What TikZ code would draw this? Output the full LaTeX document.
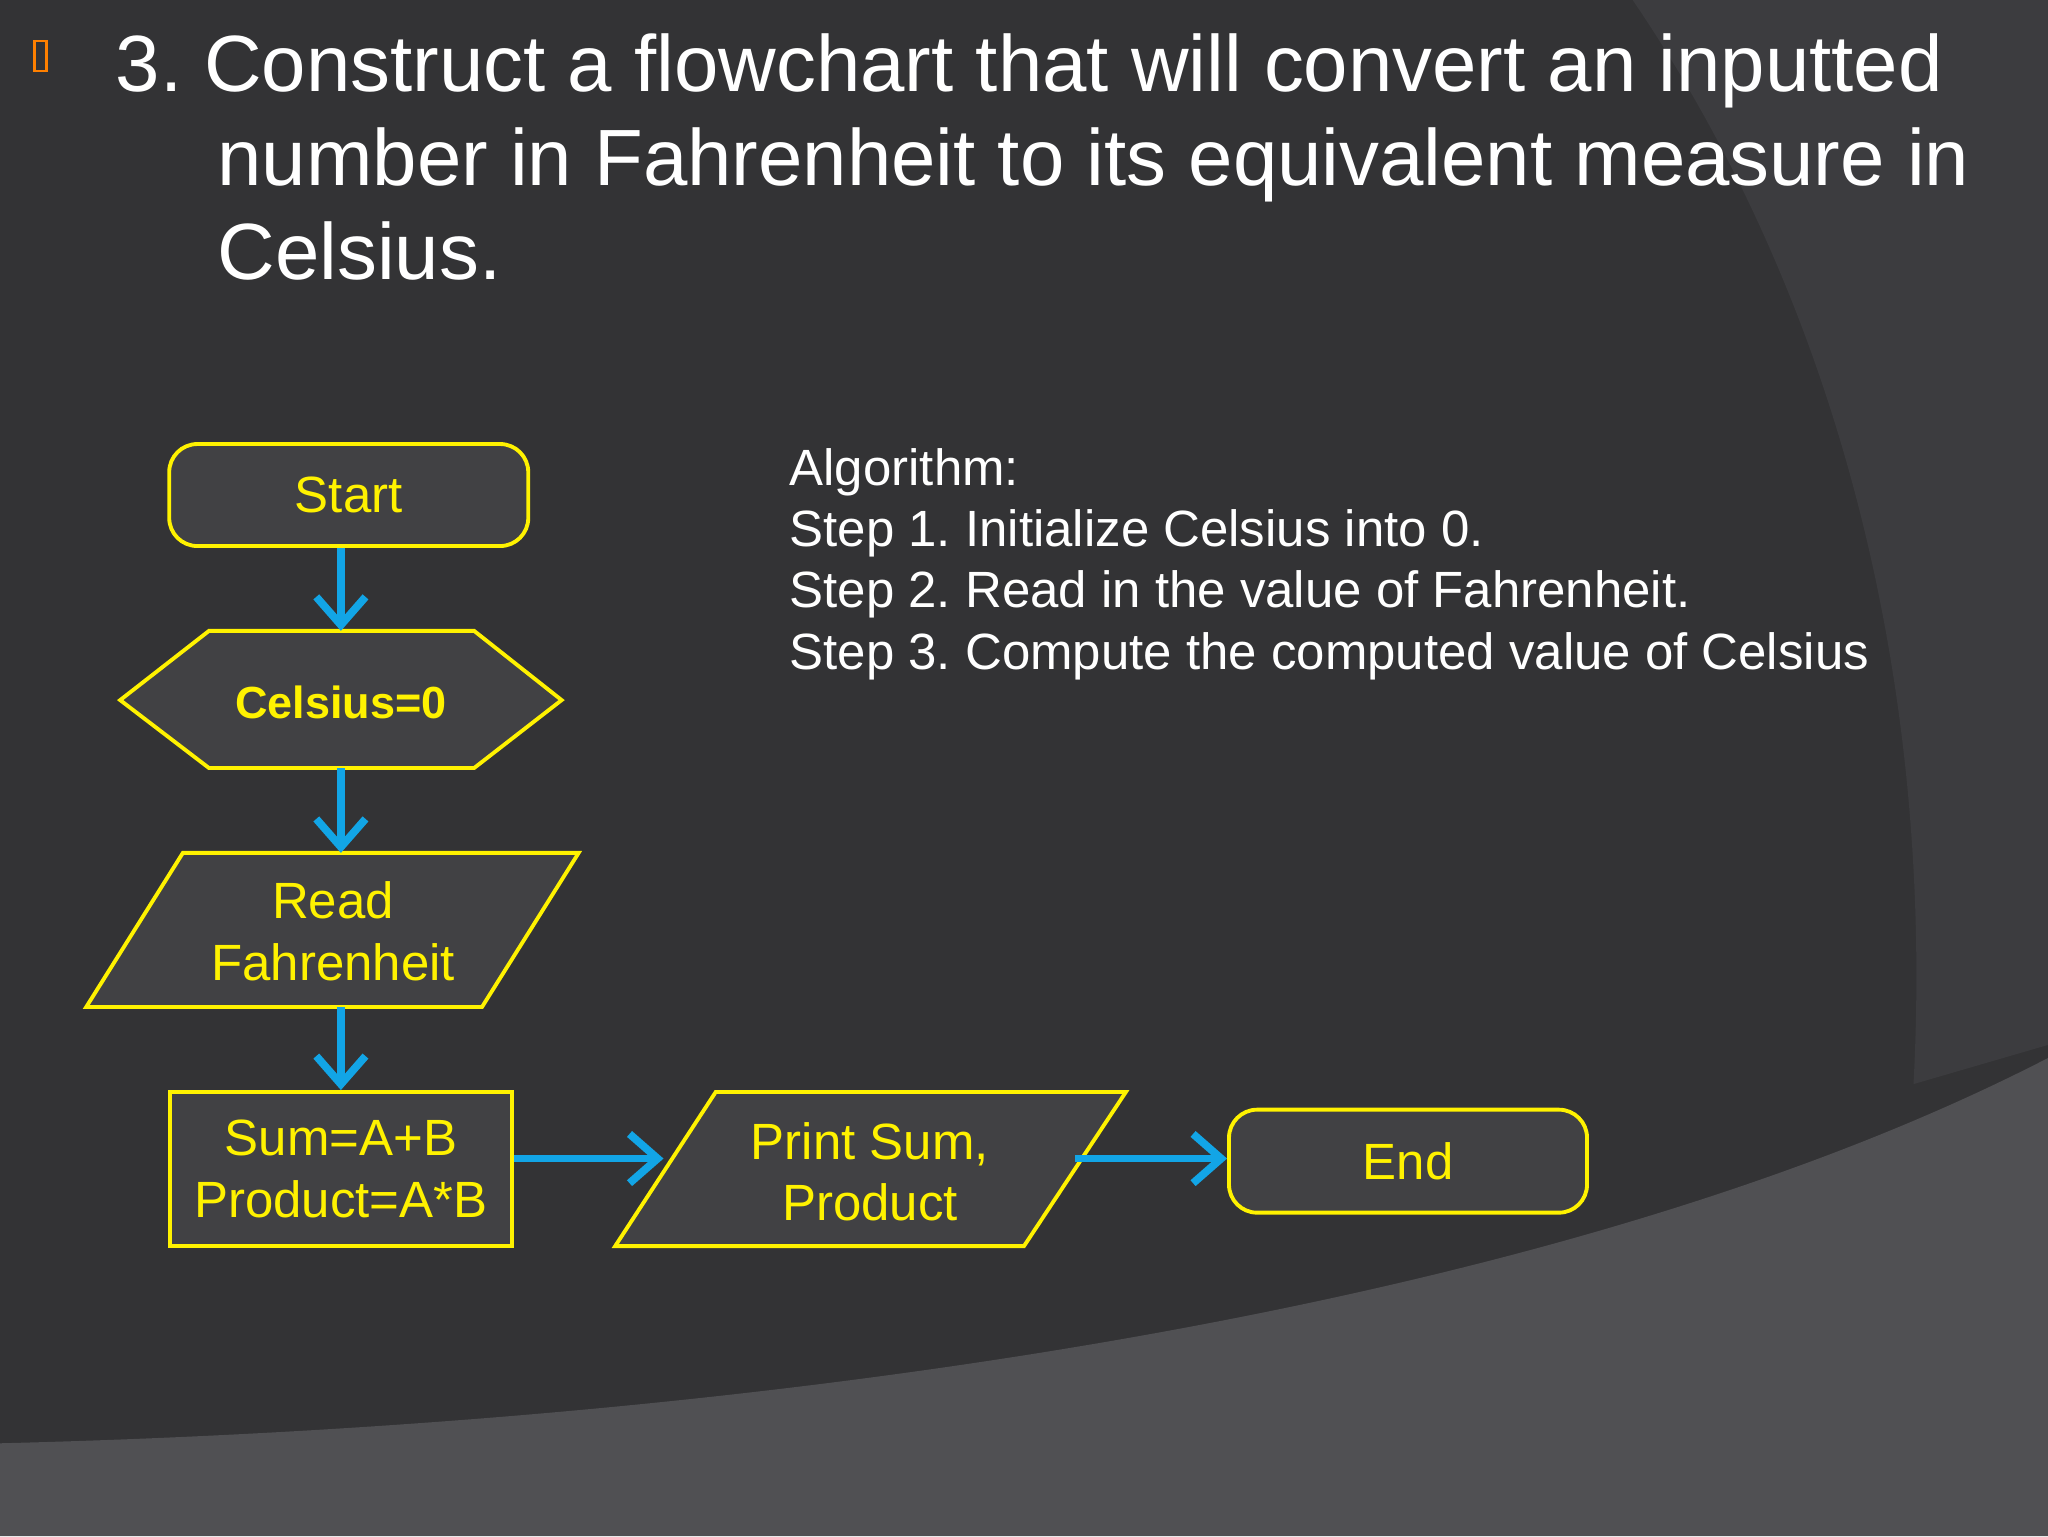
\documentclass[tikz,border=0pt]{standalone}
\usepackage{fontspec}
\setmainfont{Liberation Sans}
\usetikzlibrary{calc,arrows.meta}
\definecolor{bgdark}{HTML}{333335}
\definecolor{bgmid}{HTML}{3C3C3F}
\definecolor{bglight}{HTML}{505053}
\definecolor{boxfill}{HTML}{414144}
\definecolor{flowyellow}{HTML}{FFF200}
\definecolor{flowblue}{HTML}{12A5E6}
\tikzstyle{block} = [rectangle, draw=flowyellow, fill=boxfill, line width=1.1pt,
    text=flowyellow, font=\fontsize{14.5}{17.5}\selectfont, align=center]
\tikzstyle{label} = [text=flowyellow, font=\fontsize{14.5}{17.5}\selectfont, align=center]
\tikzstyle{outline} = [draw=flowyellow, fill=boxfill, line width=1.1pt]
\tikzstyle{line} = [draw=flowblue, line width=2.2pt, -{Straight Barb[length=8pt,width=14pt]}]
\begin{document}
\frenchspacing
\begin{tikzpicture}[x=0.1306mm, y=-0.1306mm]
    % Background
    \fill[bgdark] (0,0) rectangle (1568,1176);
    \fill[bgmid] (1250,0) .. controls (1420,250) and (1480,550) .. (1465,830) -- (1568,800) -- (1568,0) -- cycle;
    \fill[bglight] (0,1105) .. controls (600,1090) and (1200,1000) .. (1568,810) -- (1568,1176) -- (0,1176) -- cycle;
    \useasboundingbox (0,0) rectangle (1568,1176);
    % Title
    \node [draw=orange, line width=0.6pt, minimum width=0.12cm, minimum height=0.3cm, inner sep=0pt] (bullet) at (31,43) {};
    \node [anchor=base west, text=white, font=\fontsize{22.7}{27}\selectfont, inner sep=0pt] (title1) at (88,70) {3. Construct a flowchart that will convert an inputted};
    \node [anchor=base west, text=white, font=\fontsize{22.7}{27}\selectfont, inner sep=0pt] (title2) at (166,142) {number in Fahrenheit to its equivalent measure in};
    \node [anchor=base west, text=white, font=\fontsize{22.7}{27}\selectfont, inner sep=0pt] (title3) at (166,214) {Celsius.};
    % Algorithm
    \node [anchor=north west, text=white, align=left, inner sep=0pt,
        font=\fontsize{14.5}{17.4}\selectfont] (algo) at (604,343)
        {Algorithm:\\Step 1. Initialize Celsius into 0.\\Step 2. Read in the value of Fahrenheit.\\Step 3. Compute the computed value of Celsius};
    % Place nodes
    \node [block, rounded corners=8pt, minimum width=3.59cm, minimum height=1.02cm] (start) at (267,379) {Start};
    \fill [outline] (92,536) -- (160,483) -- (363,483) -- (430,536) -- (363,588) -- (160,588) -- cycle;
    \node [label, font=\fontsize{12.8}{15}\selectfont\bfseries] (init) at (261,538) {Celsius=0};
    \coordinate (initN) at (261,483);
    \coordinate (initS) at (261,588);
    \fill [outline] (140,653) -- (443,653) -- (369,771) -- (66,771) -- cycle;
    \node [label] (read) at (255,713) {Read\\Fahrenheit};
    \coordinate (readN) at (261,653);
    \coordinate (readS) at (261,771);
    \node [block, minimum width=3.42cm, minimum height=1.54cm] (compute) at (261,895) {Sum=A+B\\Product=A*B};
    \fill [outline] (548,836) -- (862,836) -- (784,954) -- (471,954) -- cycle;
    \node [label] (print) at (666,897) {Print Sum,\\Product};
    \coordinate (printW) at (508,887);
    \coordinate (printE) at (823,887);
    \node [block, rounded corners=8pt, minimum width=3.58cm, minimum height=1.03cm] (end) at (1078,889) {End};
    % Draw edges
    \path [line] (start.south -| initN) -- (initN);
    \path [line] (initS) -- (readN);
    \path [line] (readS) -- (compute.north);
    \path [line] (compute.east |- printW) -- (printW);
    \path [line] (printE) -- (end.west |- printE);
\end{tikzpicture}
\end{document}
